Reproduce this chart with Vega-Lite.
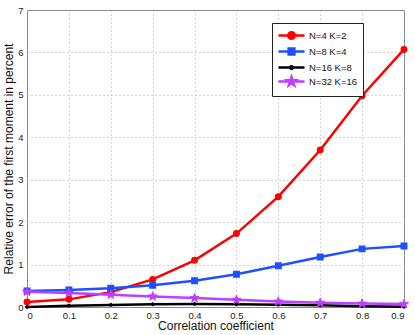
{
  "$schema": "https://vega.github.io/schema/vega-lite/v6.json",
  "width": 377,
  "height": 297,
  "autosize": {"type": "none"},
  "padding": {"left": 27, "top": 10, "right": 11, "bottom": 28},
  "background": "white",
  "config": {
    "font": "Liberation Sans",
    "view": {"stroke": "#808080", "strokeWidth": 1},
    "axis": {
      "domain": false,
      "ticks": false,
      "grid": true,
      "gridDash": [1, 3],
      "gridColor": "#aaaaaa",
      "gridWidth": 1,
      "labelFont": "Liberation Sans",
      "labelFontSize": 9.5,
      "labelColor": "#222222",
      "titleFont": "Liberation Sans",
      "titleFontSize": 12,
      "titleFontWeight": "normal",
      "titleColor": "#111111"
    }
  },
  "data": {
    "values": [
      {"series": "N=4 K=2", "x": 0.0, "y": 0.12},
      {"series": "N=4 K=2", "x": 0.1, "y": 0.18},
      {"series": "N=4 K=2", "x": 0.2, "y": 0.35},
      {"series": "N=4 K=2", "x": 0.3, "y": 0.65},
      {"series": "N=4 K=2", "x": 0.4, "y": 1.10},
      {"series": "N=4 K=2", "x": 0.5, "y": 1.73},
      {"series": "N=4 K=2", "x": 0.6, "y": 2.60},
      {"series": "N=4 K=2", "x": 0.7, "y": 3.70},
      {"series": "N=4 K=2", "x": 0.8, "y": 4.98},
      {"series": "N=4 K=2", "x": 0.9, "y": 6.07},
      {"series": "N=8 K=4", "x": 0.0, "y": 0.38},
      {"series": "N=8 K=4", "x": 0.1, "y": 0.40},
      {"series": "N=8 K=4", "x": 0.2, "y": 0.44},
      {"series": "N=8 K=4", "x": 0.3, "y": 0.51},
      {"series": "N=8 K=4", "x": 0.4, "y": 0.62},
      {"series": "N=8 K=4", "x": 0.5, "y": 0.77},
      {"series": "N=8 K=4", "x": 0.6, "y": 0.97},
      {"series": "N=8 K=4", "x": 0.7, "y": 1.18},
      {"series": "N=8 K=4", "x": 0.8, "y": 1.37},
      {"series": "N=8 K=4", "x": 0.9, "y": 1.44},
      {"series": "N=16 K=8", "x": 0.0, "y": 0.0},
      {"series": "N=16 K=8", "x": 0.1, "y": 0.03},
      {"series": "N=16 K=8", "x": 0.2, "y": 0.05},
      {"series": "N=16 K=8", "x": 0.3, "y": 0.065},
      {"series": "N=16 K=8", "x": 0.4, "y": 0.07},
      {"series": "N=16 K=8", "x": 0.5, "y": 0.065},
      {"series": "N=16 K=8", "x": 0.6, "y": 0.055},
      {"series": "N=16 K=8", "x": 0.7, "y": 0.04},
      {"series": "N=16 K=8", "x": 0.8, "y": 0.02},
      {"series": "N=16 K=8", "x": 0.9, "y": 0.005},
      {"series": "N=32 K=16", "x": 0.0, "y": 0.36},
      {"series": "N=32 K=16", "x": 0.1, "y": 0.33},
      {"series": "N=32 K=16", "x": 0.2, "y": 0.29},
      {"series": "N=32 K=16", "x": 0.3, "y": 0.25},
      {"series": "N=32 K=16", "x": 0.4, "y": 0.21},
      {"series": "N=32 K=16", "x": 0.5, "y": 0.17},
      {"series": "N=32 K=16", "x": 0.6, "y": 0.13},
      {"series": "N=32 K=16", "x": 0.7, "y": 0.10},
      {"series": "N=32 K=16", "x": 0.8, "y": 0.08},
      {"series": "N=32 K=16", "x": 0.9, "y": 0.07}
    ]
  },
  "encoding": {
    "x": {
      "field": "x", "type": "quantitative",
      "scale": {"domain": [0, 0.9], "nice": false, "zero": false},
      "axis": {"values": [0, 0.1, 0.2, 0.3, 0.4, 0.5, 0.6, 0.7, 0.8, 0.9], "format": "~g", "labelPadding": 3, "title": "Correlation coefficient", "titlePadding": 1}
    },
    "y": {
      "field": "y", "type": "quantitative",
      "scale": {"domain": [0, 7], "nice": false},
      "axis": {"values": [0, 1, 2, 3, 4, 5, 6, 7], "labelPadding": 4, "title": "Relative error of the first moment in percent", "titlePadding": 2}
    },
    "color": {
      "field": "series", "type": "nominal",
      "scale": {"domain": ["N=4 K=2", "N=8 K=4", "N=16 K=8", "N=32 K=16"], "range": ["#ff0000", "#1f50ff", "#000000", "#bf3fff"]}
    }
  },
  "layer": [
    {
      "mark": {"type": "line", "strokeWidth": 2.5},
      "encoding": {
        "detail": {"field": "series"},
        "color": {
          "field": "series", "type": "nominal",
          "legend": {
            "title": null,
            "orient": "none",
            "legendX": 245,
            "legendY": 13,
            "fillColor": "white",
            "strokeColor": "#222222",
            "padding": 5,
            "rowPadding": -3,
            "symbolSize": 144,
            "symbolStrokeWidth": 2.5,
            "symbolOffset": 7,
            "labelOffset": 10,
            "labelFont": "Liberation Sans",
            "labelFontSize": 9.5,
            "labelColor": "#111111",
            "encode": {
              "symbols": {
                "update": {
                  "shape": {"signal": "datum.value === 'N=4 K=2' ? 'M-2.17,0H2.17M-0.55,0A0.55,0.55 0 1,0 0.55,0A0.55,0.55 0 1,0 -0.55,0Z' : datum.value === 'N=8 K=4' ? 'M-2.17,0H2.17M-0.48,-0.48H0.48V0.48H-0.48Z' : datum.value === 'N=16 K=8' ? 'M-2.17,0H2.17M-0.22,0A0.22,0.22 0 1,0 0.22,0A0.22,0.22 0 1,0 -0.22,0Z' : 'M-2.17,0H2.17M0,-0.75L0.176,-0.243L0.713,-0.232L0.285,0.093L0.441,0.607L0,0.3L-0.441,0.607L-0.285,0.093L-0.713,-0.232L-0.176,-0.243Z'"},
                  "fill": {"signal": "datum.value === 'N=4 K=2' ? '#ff0000' : datum.value === 'N=8 K=4' ? '#1f50ff' : datum.value === 'N=16 K=8' ? '#000000' : '#bf3fff'"},
                  "stroke": {"signal": "datum.value === 'N=4 K=2' ? '#ff0000' : datum.value === 'N=8 K=4' ? '#1f50ff' : datum.value === 'N=16 K=8' ? '#000000' : '#bf3fff'"},
                  "strokeWidth": {"value": 2.5},
                  "opacity": {"value": 1},
                  "fillOpacity": {"value": 1}
                }
              }
            }
          }
        }
      }
    },
    {
      "transform": [{"filter": "datum.series === 'N=4 K=2'"}],
      "mark": {"type": "point", "shape": "circle", "filled": true, "size": 30, "stroke": "#ff0000", "strokeWidth": 1.5, "opacity": 1}
    },
    {
      "transform": [{"filter": "datum.series === 'N=8 K=4'"}],
      "mark": {"type": "point", "shape": "square", "filled": true, "size": 30, "stroke": "#1f50ff", "strokeWidth": 1.5, "opacity": 1}
    },
    {
      "transform": [{"filter": "datum.series === 'N=16 K=8'"}],
      "mark": {"type": "point", "shape": "circle", "filled": true, "size": 8, "stroke": "#000000", "strokeWidth": 1, "opacity": 1}
    },
    {
      "transform": [{"filter": "datum.series === 'N=32 K=16'"}],
      "mark": {"type": "point", "shape": "M0,-1L0.235,-0.324L0.951,-0.309L0.380,0.124L0.588,0.809L0,0.4L-0.588,0.809L-0.380,0.124L-0.951,-0.309L-0.235,-0.324Z", "filled": true, "size": 90, "stroke": "#bf3fff", "strokeWidth": 1, "opacity": 1}
    }
  ]
}
